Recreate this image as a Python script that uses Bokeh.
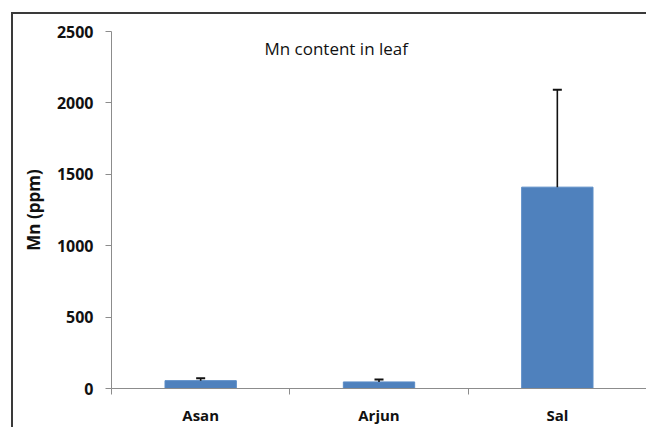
from bokeh.plotting import figure
from bokeh.models import ColumnDataSource, Range1d, FixedTicker, Whisker, TeeHead, Label
from bokeh.embed import file_html
from bokeh.resources import INLINE

# ---- data ----
categories = ["Asan", "Arjun", "Sal"]
mn_ppm = [55, 46, 1410]
mn_err = [17, 17, 682]
y_ticks = [0, 500, 1000, 1500, 2000, 2500]
title_text = "Mn content in leaf"
y_label = "Mn (ppm)"

xpos = [i + 0.5 for i in range(len(categories))]
upper = [v + e for v, e in zip(mn_ppm, mn_err)]
src = ColumnDataSource(dict(x=xpos, cat=categories, v=mn_ppm, up=upper))

FONT = "Open Sans"
LINE = "#3a3a3a"

p = figure(width=646, height=427, output_backend="svg", toolbar_location=None,
           x_range=Range1d(0, len(categories)), y_range=Range1d(0, 2500),
           min_border_left=111, min_border_right=0, min_border_top=31, min_border_bottom=39,
           styles={
               "background": (f"linear-gradient({LINE},{LINE}) 11px 12px / 100% 2px no-repeat, "
                              f"linear-gradient({LINE},{LINE}) 11px 12px / 2px 100% no-repeat, "
                              "#ffffff"),
           })
p.border_fill_color = None
p.background_fill_color = None
p.outline_line_color = None
p.xgrid.visible = False
p.ygrid.visible = False

p.vbar(x="x", top="v", bottom=0, width=0.4, source=src,
       fill_color="#4F81BD", line_color="#5B8CC6", line_width=1)

w = Whisker(source=src, base="x", lower="v", upper="up",
            upper_head=TeeHead(size=9, line_color="#111111", line_width=2),
            lower_head=None, line_color="#111111", line_width=1.6, level="overlay")
p.add_layout(w)

# y axis
ya = p.yaxis[0]
ya.ticker = FixedTicker(ticks=y_ticks)
ya.minor_tick_line_color = None
ya.axis_line_color = "#8c8c8c"
ya.major_tick_line_color = "#8c8c8c"
ya.major_tick_in = 0
ya.major_tick_out = 6
ya.major_label_standoff = 12
ya.major_label_text_font = FONT
ya.major_label_text_font_style = "bold"
ya.major_label_text_font_size = "16px"
ya.major_label_text_color = "#111111"
ya.axis_label = y_label
ya.axis_label_text_font = FONT
ya.axis_label_text_font_style = "bold"
ya.axis_label_text_font_size = "17px"
ya.axis_label_text_color = "#111111"
ya.axis_label_standoff = 9

# x axis
xa = p.xaxis[0]
xa.ticker = FixedTicker(ticks=xpos, minor_ticks=list(range(len(categories) + 1)))
xa.major_label_overrides = {x: c for x, c in zip(xpos, categories)}
xa.major_tick_line_color = None
xa.minor_tick_line_color = "#8c8c8c"
xa.minor_tick_in = 0
xa.minor_tick_out = 6
xa.axis_line_color = "#8c8c8c"
xa.major_label_standoff = 10
xa.major_label_text_font = FONT
xa.major_label_text_font_style = "bold"
xa.major_label_text_font_size = "15px"
xa.major_label_text_color = "#111111"

# chart title inside plot area
p.add_layout(Label(x=1.26, y=2381, text=title_text, text_align="center",
                   text_baseline="middle", text_font=FONT, text_font_size="17px",
                   text_color="#111111"))

open("out.html", "w").write(file_html(p, INLINE))
